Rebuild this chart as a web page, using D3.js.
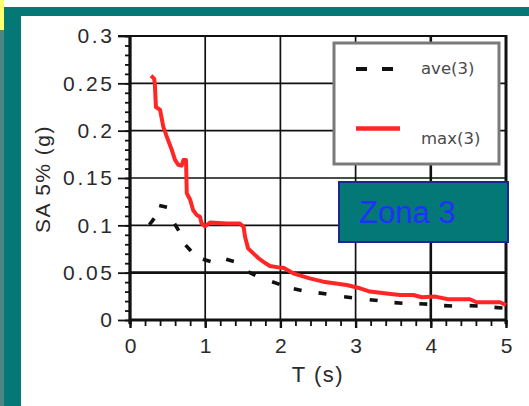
<!DOCTYPE html>
<html><head><meta charset="utf-8">
<script src="https://cdn.jsdelivr.net/npm/d3@7"></script>
<style>html,body{margin:0;padding:0;background:#fff;overflow:hidden}</style>
</head><body>
<svg id="c" width="529" height="406"></svg>
<script>
// ---- data ----
const xTicks = [0, 1, 2, 3, 4, 5];
const yTicks = [0, 0.05, 0.1, 0.15, 0.2, 0.25, 0.3];
const yTickLabels = ["0", "0.05", "0.1", "0.15", "0.2", "0.25", "0.3"];
const xMinor = d3.range(0, 5.0001, 0.2);
const yMinor = d3.range(0, 0.3001, 0.01);

const maxT  = [0.28,0.32,0.33,0.345,0.40,0.443,0.488,0.554,0.60,0.64,0.687,0.71,0.745,0.755,0.80,0.84,0.887,0.93,0.953,0.997,1.064,1.285,1.46,1.51,1.53,1.57,1.64,1.71,1.77,1.86,1.995,2.04,2.17,2.39,2.57,2.88,3.06,3.19,3.41,3.59,3.77,3.88,4.06,4.23,4.52,4.61,4.92,5.0];
const maxSA = [0.258,0.255,0.250,0.225,0.222,0.204,0.194,0.180,0.169,0.164,0.163,0.169,0.169,0.134,0.127,0.116,0.111,0.109,0.102,0.099,0.103,0.102,0.102,0.0986,0.088,0.0757,0.0704,0.0652,0.0616,0.057,0.0553,0.0553,0.0493,0.044,0.0405,0.037,0.0335,0.030,0.028,0.0264,0.0264,0.024,0.0247,0.0219,0.0219,0.0187,0.0187,0.0158];

const aveT  = [0.29,0.44,0.62,0.775,1.02,1.33,1.62,1.94,2.23,2.56,2.90,3.24,3.57,3.90,4.23,4.57,4.90];
const aveSA = [0.104,0.120,0.098,0.076,0.063,0.063,0.049,0.039,0.032,0.028,0.024,0.021,0.018,0.017,0.015,0.015,0.013];

const seriesNames = ["ave(3)", "max(3)"];
const xTitle = "T (s)";
const yTitle = "SA 5% (g)";
const zoneLabel = "Zona 3";

// ---- drawing ----
const svg = d3.select("#c");
const W = 529, H = 406;
const teal = "#037876";
const font = "'Liberation Sans', Arial, Helvetica, sans-serif";
const legendFont = "'DejaVu Sans', Verdana, sans-serif";

// background
svg.append("rect").attr("x",0).attr("y",0).attr("width",W).attr("height",H).attr("fill","#fff");
svg.append("rect").attr("x",4).attr("y",7).attr("width",W-4).attr("height",H-7).attr("fill",teal);
svg.append("rect").attr("x",0).attr("y",0).attr("width",4).attr("height",H).attr("fill","#4a8686");
svg.append("rect").attr("x",0).attr("y",0).attr("width",4).attr("height",30).attr("fill","#ffff6e");
svg.append("rect").attr("x",21).attr("y",16).attr("width",W-21).attr("height",H-16).attr("fill","#fff");

const x = d3.scaleLinear().domain([0,5]).range([130,506]);
const y = d3.scaleLinear().domain([0,0.3]).range([320,36]);

const ink = "#111";
// grid
const g = svg.append("g");
g.selectAll("line.vg").data(xTicks.slice(1,-1)).join("line")
  .attr("x1",d=>x(d)).attr("x2",d=>x(d)).attr("y1",y(0)).attr("y2",y(0.3))
  .attr("stroke",ink).attr("stroke-width",d=>d===4?2.6:1.7);
g.selectAll("line.hg").data(yTicks.slice(1,-1)).join("line")
  .attr("x1",x(0)).attr("x2",x(5)).attr("y1",d=>y(d)).attr("y2",d=>y(d))
  .attr("stroke",ink).attr("stroke-width",d=>d===0.05?2.8:1.7);

// minor ticks
const yMinorAxis = d3.axisLeft(y).tickValues(yMinor).tickSize(5).tickFormat("");
const ym = svg.append("g").attr("transform",`translate(${x(0)},0)`).call(yMinorAxis);
ym.select(".domain").remove();
ym.selectAll("line").attr("stroke",ink).attr("stroke-width",1.8);
const xMinorAxis = d3.axisBottom(x).tickValues(xMinor).tickSize(6).tickFormat("");
const xm = svg.append("g").attr("transform",`translate(0,${y(0)})`).call(xMinorAxis);
xm.select(".domain").remove();
xm.selectAll("line").attr("stroke",ink).attr("stroke-width",1.8);

// major axes
const yAxis = d3.axisLeft(y).tickValues(yTicks).tickSize(12).tickPadding(6)
  .tickFormat((d,i)=>yTickLabels[i]);
const ya = svg.append("g").attr("transform",`translate(${x(0)},0)`).call(yAxis);
ya.select(".domain").remove();
ya.selectAll("line").attr("stroke",ink).attr("stroke-width",1.8);
ya.selectAll("text").attr("font-family",font).attr("font-size",21).attr("fill","#2a2a2a")
  .attr("letter-spacing","2.7px").attr("dx","2.7px");

const xAxis = d3.axisBottom(x).tickValues(xTicks).tickSize(8).tickPadding(10).tickFormat(d3.format("d"));
const xa = svg.append("g").attr("transform",`translate(0,${y(0)})`).call(xAxis);
xa.select(".domain").remove();
xa.selectAll("line").attr("stroke",ink).attr("stroke-width",2.4);
xa.selectAll("text").attr("font-family",font).attr("font-size",21).attr("fill","#2a2a2a");

// frame
svg.append("line").attr("x1",x(0)-12).attr("x2",x(5)).attr("y1",y(0.3)).attr("y2",y(0.3)).attr("stroke",ink).attr("stroke-width",1.8);
svg.append("line").attr("x1",x(0)).attr("x2",x(5)+1).attr("y1",y(0)).attr("y2",y(0)).attr("stroke",ink).attr("stroke-width",2.8);
svg.append("line").attr("x1",x(0)).attr("x2",x(0)).attr("y1",y(0.3)-1).attr("y2",y(0)+4).attr("stroke",ink).attr("stroke-width",3.3);
svg.append("line").attr("x1",x(5)).attr("x2",x(5)).attr("y1",y(0.3)-1).attr("y2",y(0)+4).attr("stroke",ink).attr("stroke-width",3);

// titles
svg.append("text").attr("x",(x(0)+x(5))/2 + 0).attr("y",382).attr("text-anchor","middle")
  .attr("font-family",font).attr("font-size",22).attr("letter-spacing","1.5px").attr("fill","#2a2a2a").text(xTitle);
svg.append("text").attr("transform",`translate(50,${(y(0)+y(0.3))/2 + 1}) rotate(-90)`).attr("text-anchor","middle")
  .attr("font-family",font).attr("font-size",21).attr("letter-spacing","1.5px").attr("fill","#2a2a2a").text(yTitle);

// max series
const maxData = maxT.map((t,i)=>[t,maxSA[i]]);
svg.append("path").datum(maxData)
  .attr("d", d3.line().x(d=>x(d[0])).y(d=>y(d[1])))
  .attr("fill","none").attr("stroke","#ff2626").attr("stroke-width",4).attr("stroke-linejoin","round");

// ave series: dashes centred on the data points, oriented along the curve
const aveData = aveT.map((t,i)=>[x(t), y(aveSA[i])]);
const dashLen = 8;
svg.append("g").selectAll("line").data(aveData).join("line")
  .each(function(d,i){
    const p0 = aveData[Math.max(0,i-1)], p1 = aveData[Math.min(aveData.length-1,i+1)];
    let dx = p1[0]-p0[0], dy = p1[1]-p0[1];
    const L = Math.hypot(dx,dy) || 1; dx/=L; dy/=L;
    d3.select(this).attr("x1",d[0]-dx*dashLen/2).attr("y1",d[1]-dy*dashLen/2)
      .attr("x2",d[0]+dx*dashLen/2).attr("y2",d[1]+dy*dashLen/2);
  })
  .attr("stroke","#111").attr("stroke-width",3.6);

// legend
const lg = svg.append("g");
lg.append("rect").attr("x",334).attr("y",43).attr("width",165).attr("height",121)
  .attr("fill","#fff").attr("stroke","#7a7a7a").attr("stroke-width",3);
lg.append("line").attr("x1",356).attr("x2",393).attr("y1",69).attr("y2",69)
  .attr("stroke","#111").attr("stroke-width",4).attr("stroke-dasharray","11,15");
lg.append("line").attr("x1",356).attr("x2",400).attr("y1",128.5).attr("y2",128.5)
  .attr("stroke","#ff2626").attr("stroke-width",4.5);
lg.append("text").attr("x",421).attr("y",74).attr("font-family",legendFont).attr("font-size",16.5)
  .attr("fill","#4a4a4a").text(seriesNames[0]);
lg.append("text").attr("x",421).attr("y",144).attr("font-family",legendFont).attr("font-size",16.5)
  .attr("fill","#4a4a4a").text(seriesNames[1]);

// zone label box
svg.append("rect").attr("x",339).attr("y",182).attr("width",169).attr("height",60)
  .attr("fill",teal).attr("stroke","#1c2690").attr("stroke-width",2);
svg.append("text").attr("x",359).attr("y",223).attr("font-family",font).attr("font-size",31)
  .attr("fill","#1f30ff").text(zoneLabel);
</script></body></html>
